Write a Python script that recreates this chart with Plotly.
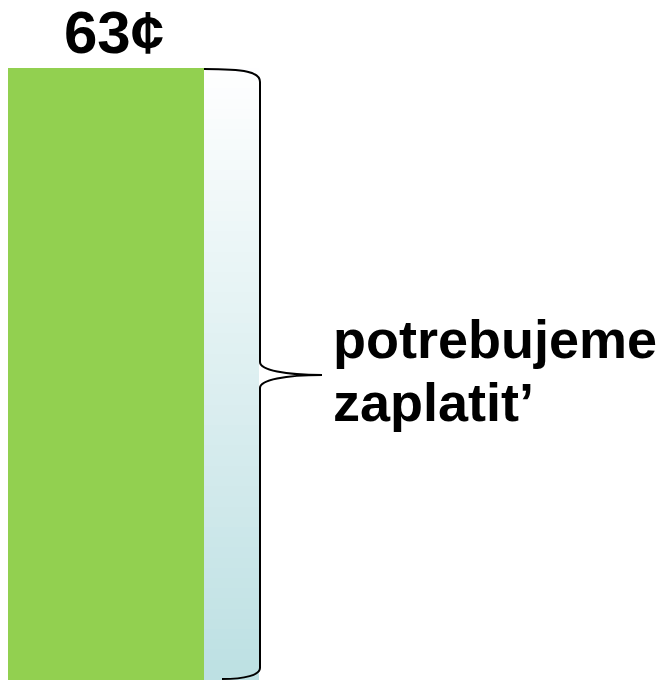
import plotly.graph_objects as go

# ---- data ----
categories = [0]
values = [63]
value_label = "63¢"
brace_label_lines = ["potrebujeme", "zaplatit’"]

# page body has an 8px margin: work in reference pixels, figure shifted by OFF
OFF = 8
W, H = 667 - OFF, 680 - OFF
BAR_PX_LEFT, BAR_PX_RIGHT = 8, 204
BAR_TOP_PX = 68

unit_px = BAR_PX_RIGHT - BAR_PX_LEFT
xr0 = categories[0] - 0.5 - (BAR_PX_LEFT - OFF) / unit_px
xr1 = xr0 + W / unit_px
yr0 = 0
yr1 = values[0] * H / (H - (BAR_TOP_PX - OFF))


def px(x):
    return xr0 + (x - OFF) / W * (xr1 - xr0)


def py(y):
    return yr1 - (y - OFF) / H * (yr1 - yr0)


fig = go.Figure()

# gradient column (white -> light blue) beside the bar
N = 60
edges = [values[0] * i / N for i in range(N + 1)]
zcol = [[1 - i / N] for i in range(N)]
fig.add_trace(go.Heatmap(
    x=[px(204), px(259)], y=edges, z=zcol,
    colorscale=[[0, "#ffffff"], [1, "#bde0e3"]],
    zmin=0, zmax=1, showscale=False, hoverinfo="skip"))

fig.add_trace(go.Bar(x=categories, y=values, width=1,
                     marker=dict(color="#92d050", line=dict(width=0)),
                     hoverinfo="skip"))

# curly brace
pts = {
    "a": (204, 69), "b": (260, 82), "c": (260, 362), "t": (322, 375),
    "d": (260, 388), "e": (260, 668), "f": (222, 679)}

def P(k):
    x, y = pts[k]
    return f"{px(x)},{py(y)}"

path = (f"M {P('a')} C {px(245)},{py(69)} {px(260)},{py(72)} {P('b')} "
        f"L {P('c')} C {px(260)},{py(370)} {px(285)},{py(375)} {P('t')} "
        f"C {px(285)},{py(375)} {px(260)},{py(380)} {P('d')} "
        f"L {P('e')} C {px(260)},{py(675)} {px(245)},{py(679)} {P('f')}")
fig.add_shape(type="path", path=path, xref="x", yref="y",
              line=dict(color="black", width=2))

font = "Arial, Liberation Sans, sans-serif"
fig.add_annotation(x=categories[0] + 0.04, y=values[0], yanchor="bottom",
                   xanchor="center", text=f"<b>{value_label}</b>",
                   showarrow=False, yshift=0,
                   font=dict(family=font, size=60, color="black"))
fig.add_annotation(x=px(331), y=py(339), xanchor="left", yanchor="middle",
                   text=f"<b>{brace_label_lines[0]}</b>", showarrow=False,
                   font=dict(family=font, size=54, color="black"))
fig.add_annotation(x=px(331), y=py(402), xanchor="left", yanchor="middle",
                   text=f"<b>{brace_label_lines[1]}</b>", showarrow=False,
                   font=dict(family=font, size=54, color="black"))

fig.update_layout(
    width=W, height=H, margin=dict(l=0, r=0, t=0, b=0),
    paper_bgcolor="white", plot_bgcolor="white", showlegend=False,
    xaxis=dict(range=[xr0, xr1], visible=False, fixedrange=True),
    yaxis=dict(range=[yr0, yr1], visible=False, fixedrange=True),
)
fig.write_html("out.html")
